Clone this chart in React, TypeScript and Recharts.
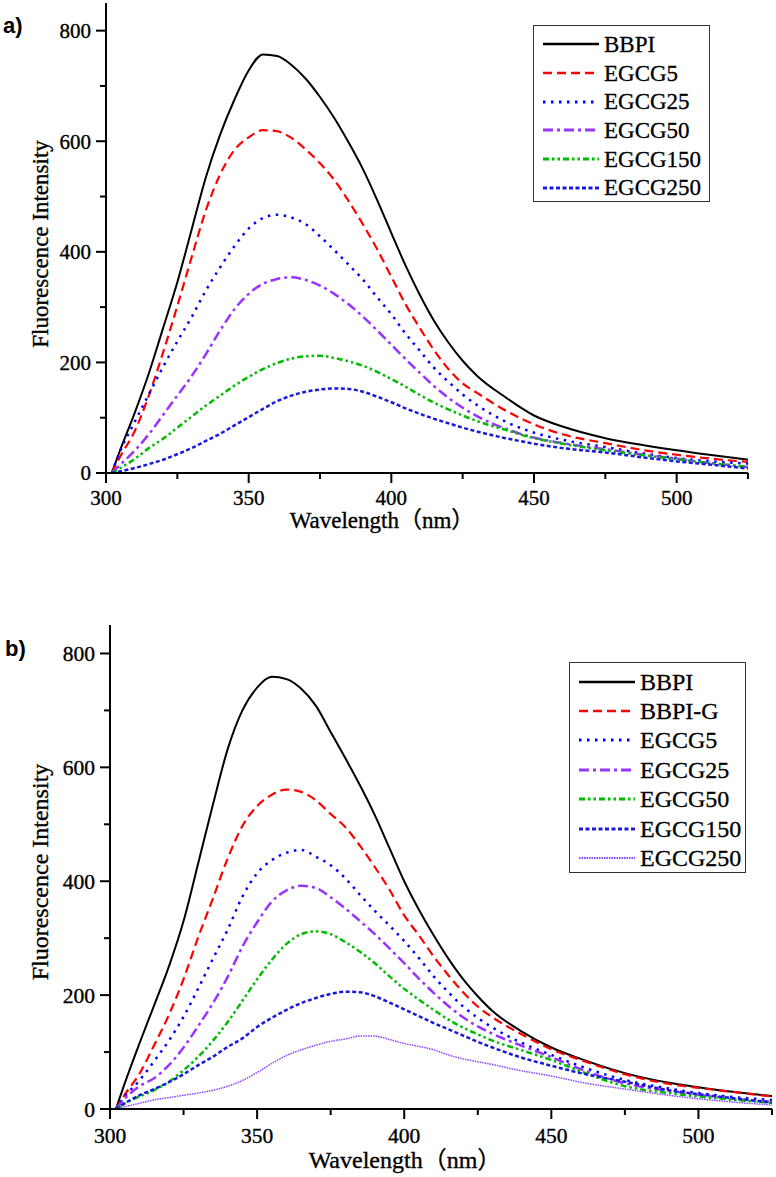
import React from 'react';
import { LineChart, Line, XAxis, YAxis, Legend, Label } from 'recharts';

// wavelength grid (nm)
const wavelengths = [302, 305, 310, 315, 320, 325, 330, 335, 340, 345, 350, 355, 360, 365, 370, 375, 380, 385, 390, 395, 400, 405, 410, 415, 420, 425, 430, 440, 450, 460, 475, 490, 500, 510, 525];

// panel a)
const bbpiA = [0, 42, 108, 180, 262, 345, 440, 535, 612, 675, 728, 757, 754, 738, 713, 680, 642, 598, 550, 494, 434, 375, 322, 275, 236, 203, 176, 137, 104, 84, 63, 49, 41, 34, 24];
const egcg5A = [0, 30, 75, 140, 218, 302, 390, 475, 540, 584, 607, 620, 618, 606, 585, 560, 530, 492, 450, 405, 355, 305, 262, 222, 188, 162, 145, 113, 88, 70, 54, 40, 33, 27, 20];
const egcg25A = [0, 40, 92, 142, 192, 238, 282, 330, 372, 410, 442, 461, 467, 462, 450, 428, 403, 377, 350, 318, 287, 252, 221, 190, 165, 142, 123, 93, 73, 60, 47, 34, 27, 22, 17];
const egcg50A = [0, 15, 40, 70, 105, 140, 175, 215, 258, 296, 324, 342, 351, 354, 349, 339, 324, 305, 283, 258, 232, 206, 181, 157, 136, 118, 103, 80, 64, 54, 43, 32, 26, 19, 11];
const egcg150A = [0, 9, 25, 45, 62, 82, 102, 122, 140, 158, 174, 188, 199, 207, 211, 212, 208, 202, 194, 183, 170, 156, 141, 127, 115, 104, 94, 78, 63, 53, 41, 31, 25, 19, 11];
const egcg250A = [0, 3, 9, 16, 24, 34, 45, 58, 71, 86, 101, 116, 130, 140, 147, 151, 153, 152, 147, 138, 128, 117, 107, 98, 90, 82, 75, 63, 53, 45, 37, 27, 21, 16, 8];

// panel b)
const bbpiB = [0, 45, 115, 182, 250, 330, 432, 535, 632, 700, 740, 759, 755, 738, 708, 662, 616, 568, 516, 458, 400, 350, 305, 264, 228, 198, 172, 136, 108, 88, 63, 46, 38, 31, 23];
const bbpiGB = [0, 25, 62, 112, 165, 228, 302, 370, 440, 497, 532, 552, 561, 557, 542, 518, 495, 462, 425, 385, 340, 305, 268, 235, 205, 180, 161, 131, 105, 86, 61, 44, 37, 31, 22];
const egcg5B = [0, 22, 50, 84, 120, 162, 212, 264, 315, 373, 414, 437, 450, 455, 443, 428, 405, 376, 348, 322, 295, 265, 233, 205, 180, 160, 143, 116, 95, 75, 51, 36, 28, 22, 16];
const egcg25B = [0, 18, 40, 54, 77, 108, 146, 186, 232, 285, 328, 364, 384, 392, 388, 372, 352, 330, 307, 282, 256, 229, 204, 181, 161, 145, 132, 111, 91, 70, 45, 32, 25, 19, 13];
const egcg50B = [0, 10, 22, 33, 48, 68, 92, 120, 153, 190, 228, 262, 290, 307, 312, 307, 293, 276, 256, 233, 211, 192, 174, 157, 143, 131, 120, 103, 86, 66, 40, 28, 22, 17, 11];
const egcg150B = [0, 10, 24, 35, 47, 61, 77, 92, 109, 124, 144, 160, 174, 186, 195, 202, 206, 205, 198, 187, 175, 163, 151, 140, 129, 118, 108, 90, 76, 63, 48, 33, 26, 20, 11];
const egcg250B = [0, 4, 10, 16, 20, 24, 28, 33, 40, 50, 64, 80, 94, 104, 112, 119, 123, 128, 128, 122, 115, 110, 104, 95, 88, 83, 78, 67, 58, 47, 35, 24, 18, 13, 7];

const yTicks = [0, 100, 200, 300, 400, 500, 600, 700, 800];
const xTicks = [300, 325, 350, 375, 400, 425, 450, 475, 500, 525];

const namesA = ['BBPI', 'EGCG5', 'EGCG25', 'EGCG50', 'EGCG150', 'EGCG250'];
const namesB = ['BBPI', 'BBPI-G', 'EGCG5', 'EGCG25', 'EGCG50', 'EGCG150', 'EGCG250'];

type Style = { color: string; dash?: string; width: number };
const SOLID: Style = { color: '#000000', width: 2 };
const DASH: Style = { color: '#FF0000', dash: '9 5', width: 2.2 };
const DOT: Style = { color: '#0000FF', dash: '2.5 5.5', width: 2.5 };
const DASHDOT: Style = { color: '#9933FF', dash: '10 4 3 4', width: 2.5 };
const DASHDOTDOT: Style = { color: '#00BB00', dash: '6 3 2.5 3 2.5 3', width: 2.5 };
const SHORTDASH: Style = { color: '#1A1ADD', dash: '4 2.5', width: 2.5 };
const FINEDOT: Style = { color: '#8844FF', dash: '1.5 1', width: 1.5 };

const stylesA = [SOLID, DASH, DOT, DASHDOT, DASHDOTDOT, SHORTDASH];
const stylesB = [SOLID, DASH, DOT, DASHDOT, DASHDOTDOT, SHORTDASH, FINEDOT];

const seriesA = [bbpiA, egcg5A, egcg25A, egcg50A, egcg150A, egcg250A];
const seriesB = [bbpiB, bbpiGB, egcg5B, egcg25B, egcg50B, egcg150B, egcg250B];

function buildRows(series: number[][]) {
  return wavelengths.map((w, i) => {
    const row: Record<string, number> = { w };
    series.forEach((s, k) => {
      row['s' + k] = s[i];
    });
    return row;
  });
}

const dataA = buildRows(seriesA);
const dataB = buildRows(seriesB);

const SERIF = "'Liberation Serif', 'Times New Roman', 'Noto Sans CJK SC', serif";
const serifStyle = (size: number): React.CSSProperties => ({ fontFamily: SERIF, fontSize: size });

function makeYTick(fontSize: number) {
  return (props: any) => {
    const { x, y, payload } = props;
    const major = payload.value % 200 === 0;
    return (
      <g>
        <line x1={x} x2={x - (major ? 10 : 6)} y1={y} y2={y} stroke="#000" strokeWidth={2} />
        {major && (
          <text x={x - 15} y={y} dy="0.35em" textAnchor="end" style={serifStyle(fontSize)} fill="#000" stroke="#000" strokeWidth={0.35}>
            {payload.value}
          </text>
        )}
      </g>
    );
  };
}

function makeXTick(fontSize: number, gap: number) {
  return (props: any) => {
    const { x, y, payload } = props;
    const major = payload.value % 50 === 0;
    return (
      <g>
        <line x1={x} x2={x} y1={y} y2={y + (major ? 10 : 6)} stroke="#000" strokeWidth={2} />
        {major && (
          <text x={x} y={y + gap} textAnchor="middle" style={serifStyle(fontSize)} fill="#000" stroke="#000" strokeWidth={0.35}>
            {payload.value}
          </text>
        )}
      </g>
    );
  };
}

function makeLegend(names: string[], styles: Style[], fontSize: number, rowH: number) {
  return () => (
    <div
      style={{
        border: '1.5px solid #333',
        background: '#fff',
        boxSizing: 'border-box',
        width: '100%',
        height: '100%',
        paddingTop: 4,
        paddingLeft: 9,
      }}
    >
      {names.map((n, i) => (
        <div key={n} style={{ display: 'flex', alignItems: 'center', height: rowH }}>
          <svg width={56} height={10} style={{ display: 'block' }}>
            <line
              x1={0}
              x2={56}
              y1={5}
              y2={5}
              stroke={styles[i].color}
              strokeWidth={styles[i].width + 0.5}
              strokeDasharray={styles[i].dash}
            />
          </svg>
          <span
            style={{
              fontFamily: SERIF,
              fontSize,
              color: '#000',
              marginLeft: 5,
              lineHeight: 1,
              WebkitTextStroke: '0.3px #000',
            }}
          >
            {n}
          </span>
        </div>
      ))}
    </div>
  );
}

function Panel(props: {
  data: any[];
  names: string[];
  styles: Style[];
  width: number;
  height: number;
  margin: any;
  yWidth: number;
  xHeight: number;
  tickFont: number;
  xGap: number;
  labelFont: number;
  yLabelPos: { x: number; y: number };
  xLabelPos: { x: number; y: number };
  legendBox: { left: number; top: number; width: number; height: number };
  legendFont: number;
  legendRow: number;
}) {
  const p = props;
  return (
    <LineChart width={p.width} height={p.height} data={p.data} margin={p.margin}>
      <XAxis
        dataKey="w"
        type="number"
        domain={[300, 525]}
        ticks={xTicks}
        interval={0}
        height={p.xHeight}
        tickSize={0}
        tickMargin={0}
        tickLine={false}
        axisLine={{ stroke: '#000', strokeWidth: 2 }}
        tick={makeXTick(p.tickFont, p.xGap)}
      >
        <Label
          content={() => (
            <text
              x={p.xLabelPos.x}
              y={p.xLabelPos.y}
              textAnchor="middle"
              style={serifStyle(p.labelFont)}
              fill="#000"
              stroke="#000"
              strokeWidth={0.35}
            >
              Wavelength（nm）
            </text>
          )}
        />
      </XAxis>
      <YAxis
        type="number"
        domain={[0, 850]}
        ticks={yTicks}
        interval={0}
        width={p.yWidth}
        tickSize={0}
        tickMargin={0}
        tickLine={false}
        axisLine={{ stroke: '#000', strokeWidth: 2 }}
        tick={makeYTick(p.tickFont)}
      >
        <Label
          content={() => (
            <text
              x={p.yLabelPos.x}
              y={p.yLabelPos.y}
              textAnchor="middle"
              dominantBaseline="central"
              transform={`rotate(-90 ${p.yLabelPos.x} ${p.yLabelPos.y})`}
              style={serifStyle(p.labelFont)}
              fill="#000"
              stroke="#000"
              strokeWidth={0.35}
            >
              Fluorescence Intensity
            </text>
          )}
        />
      </YAxis>
      {p.names.map((n, k) => (
        <Line
          key={n}
          dataKey={'s' + k}
          name={n}
          type="monotone"
          stroke={p.styles[k].color}
          strokeWidth={p.styles[k].width}
          strokeDasharray={p.styles[k].dash}
          dot={false}
          activeDot={false}
          isAnimationActive={false}
        />
      ))}
      <Legend
        layout="vertical"
        align="center"
        verticalAlign="middle"
        wrapperStyle={{ ...p.legendBox }}
        content={makeLegend(p.names, p.styles, p.legendFont, p.legendRow)}
      />
    </LineChart>
  );
}

export default function App() {
  return (
    <div style={{ position: 'absolute', left: 0, top: 0, width: 776, height: 1177, background: '#fff' }}>
      <div style={{ position: 'absolute', left: 0, top: 0 }}>
        <Panel
          data={dataA}
          names={namesA}
          styles={stylesA}
          width={776}
          height={560}
          margin={{ top: 3, right: 28, left: 0, bottom: 0 }}
          yWidth={106}
          xHeight={87}
          tickFont={21}
          xGap={32}
          labelFont={23}
          yLabelPos={{ x: 40, y: 244 }}
          xLabelPos={{ x: 382, y: 528 }}
          legendBox={{ left: 533, top: 25, width: 177, height: 177 }}
          legendFont={23}
          legendRow={28.7}
        />
      </div>
      <div style={{ position: 'absolute', left: 0, top: 580 }}>
        <Panel
          data={dataB}
          names={namesB}
          styles={stylesB}
          width={776}
          height={597}
          margin={{ top: 45, right: 4, left: 0, bottom: 0 }}
          yWidth={110}
          xHeight={68}
          tickFont={21.5}
          xGap={34}
          labelFont={24}
          yLabelPos={{ x: 40, y: 292 }}
          xLabelPos={{ x: 405, y: 588 }}
          legendBox={{ left: 569, top: 82, width: 177, height: 211 }}
          legendFont={24}
          legendRow={29.4}
        />
      </div>
      <svg width={776} height={1177} style={{ position: 'absolute', left: 0, top: 0, pointerEvents: 'none' }}>
        <text x={3} y={33} style={{ fontFamily: "'Liberation Sans', Arial, sans-serif", fontWeight: 'bold', fontSize: 22 }} fill="#000">
          a)
        </text>
        <text x={5} y={656} style={{ fontFamily: "'Liberation Sans', Arial, sans-serif", fontWeight: 'bold', fontSize: 22 }} fill="#000">
          b)
        </text>
      </svg>
    </div>
  );
}
